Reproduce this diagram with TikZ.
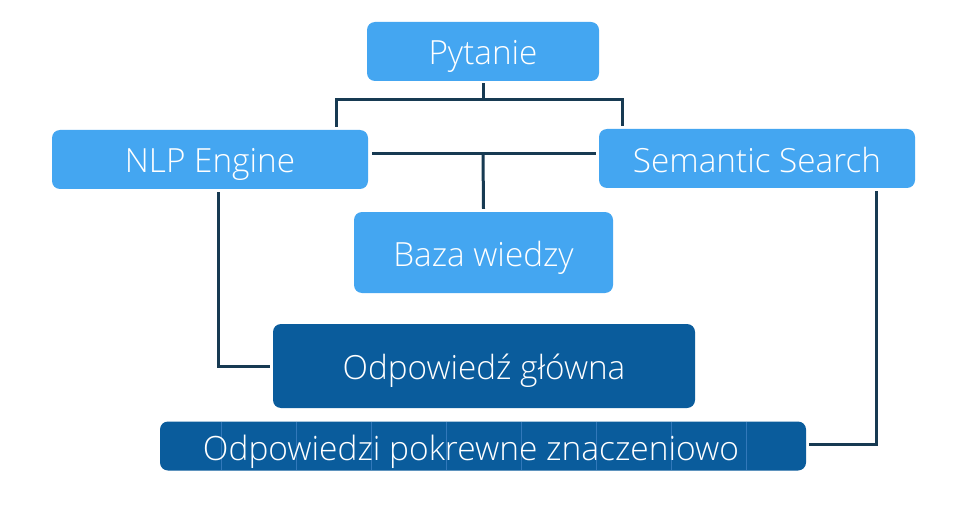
\documentclass[tikz,border=0pt]{standalone}
\usepackage{fontspec}
\IfFontExistsTF{Open Sans Light}{\setmainfont{Open Sans Light}}{\setmainfont{Open Sans}}
\definecolor{lightbox}{HTML}{44A6F1}
\definecolor{darkbox}{HTML}{0A5C9C}
\definecolor{connline}{HTML}{173A52}
\definecolor{tickline}{HTML}{3278BA}
\begin{document}
\begin{tikzpicture}[x=1pt,y=-1pt,
  txt/.style={text=white,inner sep=0pt,font=\fontsize{33.3}{38}\selectfont,text height=27pt,text depth=0pt},
  lbox/.style={rectangle,rounded corners=8pt,fill=lightbox,txt},
  dbox/.style={rectangle,rounded corners=8pt,fill=darkbox,txt},
  conn/.style={draw=connline,line width=3pt}]
\useasboundingbox (0,0) rectangle (967,508);
\fill[white] (0,0) rectangle (967,508);
\node[lbox,minimum width=232pt,minimum height=59pt] (pyt) at (483,51.5) {Pytanie\hspace{2pt}};
\node[lbox,minimum width=316pt,minimum height=59pt] (nlp) at (210,159.5) {NLP Engine\hspace{10pt}};
\node[lbox,minimum width=316pt,minimum height=59pt] (sem) at (757,158.5) {Semantic Search};
\node[lbox,minimum width=259pt,minimum height=81pt] (baza) at (483.5,252.5) {Baza wiedzy\hspace{6pt}};
\node[dbox,minimum width=422pt,minimum height=84pt] (glowna) at (484,366) {Odpowiedź główna};
\node[dbox,minimum width=646pt,minimum height=49pt] (pokr) at (483,446) {};
\foreach \xx in {221,296,371,446,521,596,671,746}
  \draw[tickline,line width=0.8pt] (\xx,422) -- (\xx,470);
\node[txt,text height=29pt,font=\fontsize{33.5}{38}\selectfont] (pokrtxt) at ([xshift=-12pt]pokr.center) {Odpowiedzi pokrewne znaczeniowo};
% connectors
\coordinate (j1) at (483,100);
\coordinate (j2) at (483,154);
\draw[conn] ([yshift=-2pt]pyt.south) -- (j1);
\draw[conn] ([xshift=126pt,yshift=3pt]nlp.north) |- (j1) -| ([xshift=-135pt,yshift=3pt]sem.north);
\draw[conn] ([xshift=4pt]nlp.east |- j2) -- ([xshift=-3pt]sem.west |- j2);
\draw[conn] (j2) -- ([yshift=3pt]baza.north);
\draw[conn] ([xshift=8pt,yshift=-3pt]nlp.south) |- ([xshift=-3pt]glowna.west);
\draw[conn] ([xshift=119pt,yshift=-3pt]sem.south) |- ([xshift=3pt,yshift=2pt]pokr.east);
\end{tikzpicture}
\end{document}
